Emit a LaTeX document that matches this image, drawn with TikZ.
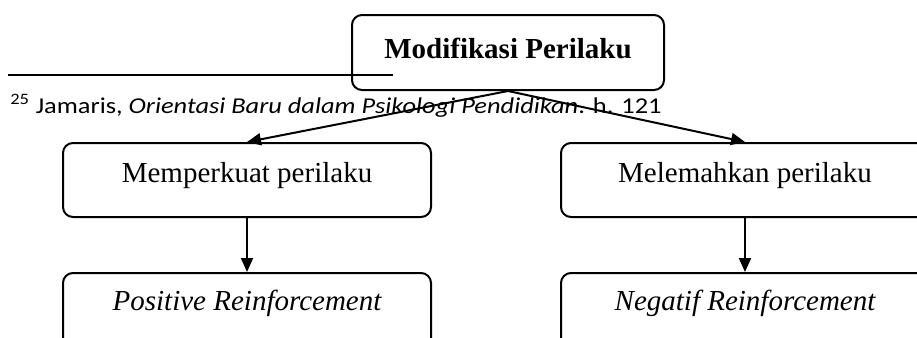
\documentclass[tikz,border=0pt]{standalone}
\usepackage{fontspec}
\usepackage{graphicx}
\setmainfont{Liberation Serif}
\newfontfamily\notefont{Carlito}
\usetikzlibrary{arrows.meta}
\begin{document}
\begin{tikzpicture}[x=0.75pt,y=-0.75pt,
  box/.style={draw, line width=1.5pt, rounded corners=7.5pt, inner sep=0pt, minimum width=276pt, minimum height=55.5pt},
  lab/.style={font=\fontsize{21.75pt}{26pt}\selectfont, inner sep=0pt},
  conn/.style={line width=1.5pt, -{Triangle[length=10.5pt,width=9pt]}}]
\useasboundingbox (0,0) rectangle (917,337);
% footnote
\draw[line width=1.5pt] (8,75) -- (393,75);
\node[anchor=base west, inner sep=0pt, font=\notefont\fontsize{17pt}{20pt}\selectfont] (note) at (10,113)
  {\scalebox{1.165}[1]{\textsuperscript{25} Jamaris, \textit{Orientasi Baru dalam Psikologi Pendidikan}. h. 121}};
% boxes
\node[box, minimum width=234pt, minimum height=56.25pt,
  label={[lab, yshift=3.4pt]center:\bfseries Modifikasi Perilaku}] (top) at (508,52.5) {};
\node[box, label={[lab, yshift=3pt]center:Memperkuat perilaku}] (mid1) at (247,180) {};
\node[box, label={[lab, yshift=3pt]center:Melemahkan perilaku}] (mid2) at (745,180) {};
\node[box, minimum height=56.25pt, label={[lab, yshift=5pt]center:\itshape Positive Reinforcement}] (bot1) at (247,310.5) {};
\node[box, minimum height=56.25pt, label={[lab, yshift=5pt]center:\itshape Negatif Reinforcement}] (bot2) at (745,310.5) {};
% connectors
\draw[conn] (top.south) -- (mid1.north);
\draw[conn] (top.south) -- (mid2.north);
\draw[conn] (mid1.south) -- (bot1.north);
\draw[conn] (mid2.south) -- (bot2.north);
\end{tikzpicture}
\end{document}
